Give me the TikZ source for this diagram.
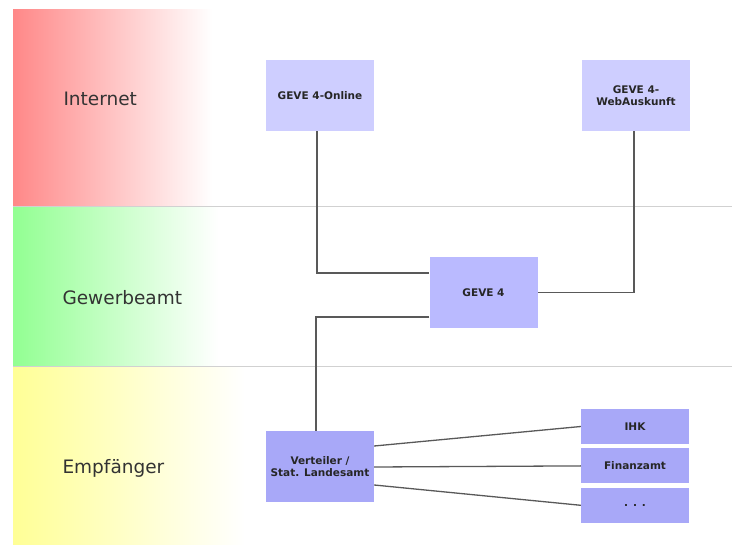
\documentclass[tikz,border=0pt]{standalone}
\usepackage{fontspec}
\setmainfont{DejaVu Sans}
\usetikzlibrary{positioning}
\definecolor{bandred}{RGB}{255,136,136}
\definecolor{bandgreen}{RGB}{146,255,146}
\definecolor{bandyellow}{RGB}{255,255,150}
\definecolor{boxtop}{RGB}{206,206,255}
\definecolor{boxmid}{RGB}{186,186,255}
\definecolor{boxlow}{RGB}{168,168,248}
\begin{document}
\begin{tikzpicture}[x=1pt, y=-1pt, node distance=4pt,
    main/.style = {fill=boxlow, minimum width=108pt, minimum height=71pt, align=center,
                   font=\fontsize{10.5}{12}\selectfont\bfseries, text=black!85},
    small/.style = {main, minimum height=35pt},
    band/.style = {anchor=west, font=\fontsize{18.5}{20}\selectfont, text=black!80},
    link/.style = {draw=black!65, line width=1.3pt}]
    \useasboundingbox (0,0) rectangle (732,545);

    % layers
    \shade[left color=bandred, right color=white] (13,10) rectangle (212,207);
    \shade[left color=bandgreen, right color=white] (13,207) rectangle (218,367);
    \shade[left color=bandyellow, right color=white] (13,367) rectangle (245,545);
    \draw[black!18, line width=1pt] (13,207) -- (732,207);
    \draw[black!18, line width=1pt] (13,367) -- (732,367);

    \node[band] (l1) at (60,99)  {Internet};
    \node[band] (l2) at (59,298) {Gewerbeamt};
    \node[band] (l3) at (59,468) {Empfänger};

    % boxes
    \node[main, fill=boxtop] (1) at (320,95.5)  {GEVE 4-Online};
    \node[main, fill=boxtop] (2) at (636,95.5)  {GEVE 4-\\WebAuskunft};
    \node[main, fill=boxmid] (3) at (483.5,292.5) {GEVE 4};
    \node[main] (4) at (320,467)                {Verteiler /\\Stat. Landesamt};
    \node[small] (5) at (635,426.5)             {IHK};
    \node[small] (6) [below=of 5]               {Finanzamt};
    \node[small] (7) [below=of 6]               {. . .};

    \draw[link] ([xshift=-3pt]1.south) |- ([yshift=19.5pt]3.west);
    \draw[link] ([xshift=-2pt]2.south) |- (3.east);
    \draw[link] ([yshift=-24.5pt]3.west) -| ([xshift=-4pt]4.north);
    \draw[link] ([yshift=21pt]4.east) -- (5.west);
    \draw[link] (4.east) -- (6.west);
    \draw[link] ([yshift=-18pt]4.east) -- (7.west);
\end{tikzpicture}
\end{document}
